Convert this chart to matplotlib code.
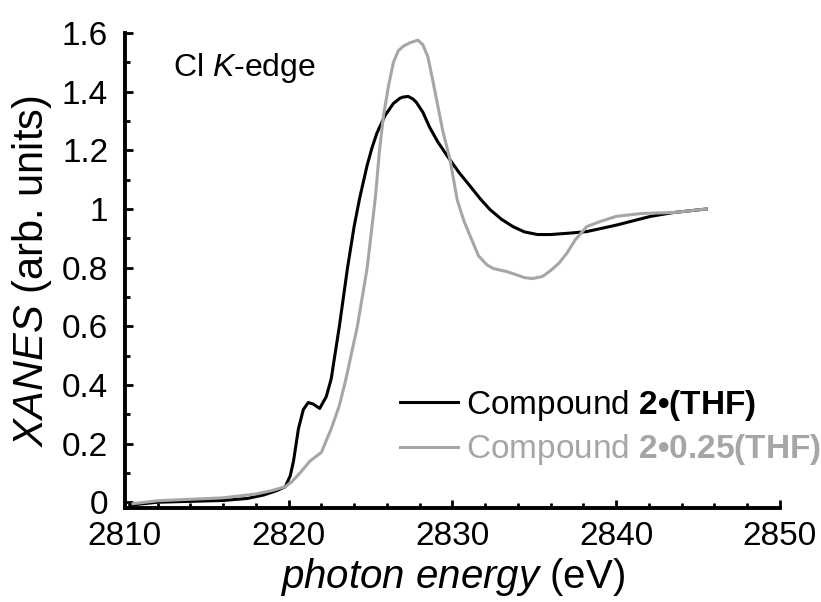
import matplotlib
matplotlib.use("Agg")
import matplotlib.pyplot as plt
from matplotlib.ticker import MultipleLocator

plt.rcParams["font.family"] = ["Liberation Sans", "DejaVu Sans"]
plt.rcParams["mathtext.fontset"] = "custom"
plt.rcParams["mathtext.rm"] = "Liberation Sans"
plt.rcParams["mathtext.it"] = "Liberation Sans:italic"
plt.rcParams["mathtext.bf"] = "Liberation Sans:bold"

# Cl K-edge XANES
energy_thf = [2810.3, 2812, 2814, 2816, 2817.5, 2818.5, 2819.3, 2819.8, 2820.1, 2820.3,
              2820.6, 2820.9, 2821.2, 2821.5, 2821.9, 2822.3, 2822.6, 2823.1, 2823.6,
              2824.0, 2824.35, 2824.8, 2825.1, 2825.4, 2825.9, 2826.4, 2826.8, 2827.0,
              2827.3, 2827.6, 2827.8, 2828.2, 2828.6, 2829.1, 2829.7, 2830.4, 2831.1,
              2831.7, 2832.3, 2833.0, 2833.7, 2834.4, 2835.2, 2836.0, 2837.2, 2838.2,
              2840.0, 2842.1, 2843.5, 2845.5]
xanes_thf = [-0.01, 0.0, 0.003, 0.006, 0.013, 0.025, 0.04, 0.053, 0.09, 0.14,
             0.25, 0.316, 0.34, 0.335, 0.32, 0.36, 0.42, 0.60, 0.80,
             0.94, 1.04, 1.15, 1.21, 1.26, 1.32, 1.36, 1.378, 1.382,
             1.384, 1.375, 1.364, 1.33, 1.28, 1.23, 1.18, 1.125, 1.077,
             1.035, 0.998, 0.965, 0.94, 0.922, 0.913, 0.913, 0.918, 0.923,
             0.945, 0.975, 0.988, 1.0]

energy_q = [2810.5, 2812, 2814, 2816, 2818, 2819, 2819.8, 2820.2, 2820.7, 2821.3,
            2822.0, 2822.6, 2823.1, 2823.5, 2824.2, 2824.8, 2825.05, 2825.3, 2825.55,
            2825.8, 2826.1, 2826.4, 2826.7, 2827.0, 2827.4, 2827.9, 2828.2, 2828.5,
            2828.8, 2829.4, 2829.85, 2830.3, 2830.7, 2831.1, 2831.6, 2832.1, 2832.5,
            2833.3, 2833.9, 2834.4, 2834.9, 2835.5, 2836.0, 2836.5, 2837.0, 2837.5,
            2838.2, 2839.0, 2840.0, 2841.6, 2843.5, 2845.5]
xanes_q = [-0.005, 0.005, 0.01, 0.015, 0.028, 0.04, 0.053, 0.07, 0.10, 0.14,
           0.17, 0.25, 0.33, 0.42, 0.60, 0.80, 0.92, 1.04, 1.20,
           1.32, 1.42, 1.50, 1.54, 1.555, 1.567, 1.576, 1.56, 1.52,
           1.44, 1.27, 1.17, 1.03, 0.96, 0.906, 0.84, 0.81, 0.797,
           0.787, 0.776, 0.766, 0.763, 0.77, 0.79, 0.815, 0.85, 0.895,
           0.94, 0.957, 0.975, 0.985, 0.988, 1.0]

GRAY = "#a6a6a6"

fig = plt.figure(figsize=(8.21, 6.02), dpi=100)
ax = fig.add_axes([0.152, 0.156, 0.798, 0.789])

ax.plot(energy_thf, xanes_thf, color="black", lw=2.2, solid_joinstyle="round",
        label=r"Compound $\mathbf{2•(THF)}$")
ax.plot(energy_q, xanes_q, color=GRAY, lw=2.2, solid_joinstyle="round",
        label=r"Compound $\mathbf{2•0.25(THF)}$")

ax.set_xlim(2810, 2850)
ax.set_ylim(-0.02, 1.6)
ax.xaxis.set_major_locator(MultipleLocator(10))
ax.xaxis.set_minor_locator(MultipleLocator(2))
ax.yaxis.set_minor_locator(MultipleLocator(0.1))
ax.set_yticks([0, 0.2, 0.4, 0.6, 0.8, 1.0, 1.2, 1.4, 1.6])
ax.set_yticklabels(["0", "0.2", "0.4", "0.6", "0.8", "1", "1.2", "1.4", "1.6"])

for s in ("top", "right"):
    ax.spines[s].set_visible(False)
for s in ("left", "bottom"):
    ax.spines[s].set_linewidth(2.8)

ax.tick_params(which="major", direction="in", length=6, width=2, labelsize=24)
ax.tick_params(which="minor", direction="in", length=3.5, width=2)
ax.tick_params(axis="y", which="major", pad=12)
ax.tick_params(axis="x", which="major", pad=9)

ax.set_xlabel(r"$\mathit{photon\ energy}$ (eV)", fontsize=29, labelpad=3)
ax.set_ylabel(r"$\mathit{XANES}$ (arb. units)", fontsize=30, labelpad=6)

ax.text(0.073, 0.926, r"Cl $\mathit{K}$-edge", transform=ax.transAxes,
        fontsize=23, va="center", ha="left")

leg = ax.legend(loc="upper left", bbox_to_anchor=(400 / 821, 1 - 388 / 602),
                bbox_transform=fig.transFigure, frameon=False, fontsize=24,
                handlelength=1.75, handletextpad=0.22, labelspacing=0.28,
                borderpad=0, borderaxespad=0)
leg.get_texts()[1].set_color(GRAY)

fig.savefig("out.png", dpi=100)
